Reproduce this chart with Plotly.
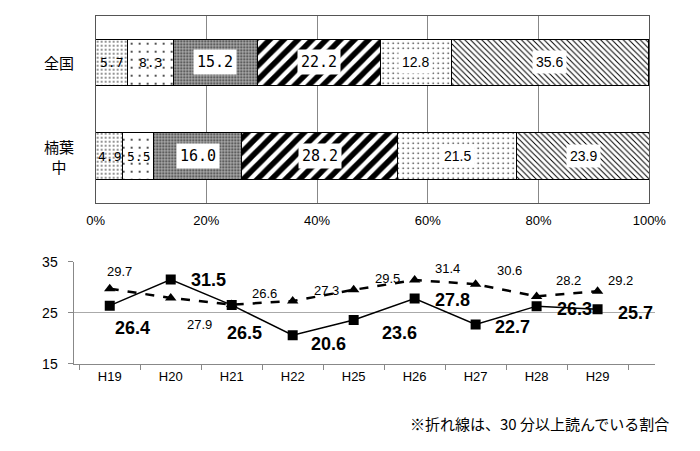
import plotly.graph_objects as go

# ---- data ----
bar_categories = ["全国", "楠葉中"]
bar_cat_labels = ["全国", "楠葉<br>中"]
seg_national = [5.7, 8.3, 15.2, 22.2, 12.8, 35.6]
seg_school = [4.9, 5.5, 16.0, 28.2, 21.5, 23.9]

years = ["H19", "H20", "H21", "H22", "H25", "H26", "H27", "H28", "H29"]
line_school = [26.4, 31.5, 26.5, 20.6, 23.6, 27.8, 22.7, 26.3, 25.7]
line_national = [29.7, 27.9, 26.6, 27.3, 29.5, 31.4, 30.6, 28.2, 29.2]
line_ticks = [15, 25, 35]

footnote = "※折れ線は、30 分以上読んでいる割合"

# ---- styles ----
patterns = [
    dict(shape=".", size=4, solidity=0.12, fgcolor="#000", bgcolor="#fff", fgopacity=1),
    dict(shape=".", size=8, solidity=0.04, fgcolor="#000", bgcolor="#fff", fgopacity=1),
    dict(shape=".", size=3, solidity=0.3, fgcolor="#333", bgcolor="#aaa", fgopacity=1),
    dict(shape="/", size=10, solidity=0.55, fgcolor="#000", bgcolor="#fff", fgopacity=1),
    dict(shape=".", size=5, solidity=0.07, fgcolor="#000", bgcolor="#fff", fgopacity=1),
    dict(shape="\\", size=4, solidity=0.25, fgcolor="#000", bgcolor="#fff", fgopacity=1),
]
boxed = [False, False, True, True, True, True]
label_font = "DejaVu Sans Mono, monospace"
sans = "Liberation Sans, Arial, sans-serif"
cjk = "Noto Sans CJK JP"

school_shift = [(23, -22), (38, 0), (13, -28), (36, -9), (46, -13),
                (38, -2), (37, -2), (38, -3), (38, -4)]
national_shift = [(10, 17), (29, -27), (33, 11), (34, 11), (34, 11),
                  (33, 12), (34, 14), (32, 16), (23, 11)]

W, H = 700, 451

fig = go.Figure()

# stacked bars
for i in range(len(seg_national)):
    fig.add_trace(go.Bar(
        y=bar_categories, x=[seg_national[i], seg_school[i]], orientation="h",
        marker=dict(color="#fff", pattern=patterns[i], line=dict(color="#000", width=1)),
        xaxis="x", yaxis="y", showlegend=False, hoverinfo="skip",
    ))

annotations = []
for ci, seg in enumerate([seg_national, seg_school]):
    cum = 0
    for i, v in enumerate(seg):
        mid = cum + v / 2
        cum += v
        annotations.append(dict(
            x=mid, y=bar_categories[ci], xref="x", yref="y", text=f"{v:.1f}",
            showarrow=False, font=dict(family=label_font if i < 4 else sans,
                                      size=(13 if i < 2 else 15) if i < 4 else 14,
                                      color="#000"),
            bgcolor="#fff" if boxed[i] else None, borderpad=3 if boxed[i] else 0,
        ))

for cat, lab in zip(bar_categories, bar_cat_labels):
    annotations.append(dict(
        x=52 / W, xref="paper", y=cat, yref="y", text=lab, showarrow=False,
        xanchor="center", align="center", font=dict(family=cjk, size=15, color="#000"),
    ))

# lines
fig.add_trace(go.Scatter(
    x=years, y=line_national, mode="lines+markers", xaxis="x2", yaxis="y2",
    line=dict(color="#000", width=2.5, dash="dash"),
    marker=dict(symbol="triangle-up", size=10, color="#000"),
    showlegend=False, hoverinfo="skip",
))
fig.add_trace(go.Scatter(
    x=years, y=line_school, mode="lines+markers", xaxis="x2", yaxis="y2",
    line=dict(color="#000", width=1.5),
    marker=dict(symbol="square", size=10, color="#000"),
    showlegend=False, hoverinfo="skip",
))

for yr, v, (dx, dy) in zip(years, line_school, school_shift):
    annotations.append(dict(
        x=yr, y=v, xref="x2", yref="y2", text=f"<b>{v:.1f}</b>", showarrow=False,
        xshift=dx, yshift=dy, font=dict(family=sans, size=18, color="#000"),
    ))
for yr, v, (dx, dy) in zip(years, line_national, national_shift):
    annotations.append(dict(
        x=yr, y=v, xref="x2", yref="y2", text=f"{v:.1f}", showarrow=False,
        xshift=dx, yshift=dy, font=dict(family=sans, size=13, color="#000"),
    ))

annotations.append(dict(
    x=688 / W, y=1 - 431 / H, xref="paper", yref="paper", text=footnote,
    showarrow=False, xanchor="right", yanchor="middle",
    font=dict(family=cjk, size=15, color="#000"),
))

fig.update_layout(
    width=W, height=H, margin=dict(l=0, r=0, t=0, b=0),
    paper_bgcolor="#fff", plot_bgcolor="#fff",
    barmode="stack", bargap=0.5,
    annotations=annotations,
    xaxis=dict(domain=[90 / W, 665 / W], range=[0, 100], dtick=20, ticksuffix="%",
               showgrid=True, gridcolor="#888", gridwidth=1, zeroline=False,
               showline=True, linecolor="#555", linewidth=1, mirror=True,
               tickfont=dict(family=sans, size=13, color="#000"), ticks="",
               ticklabelstandoff=6, anchor="y", fixedrange=True),
    yaxis=dict(domain=[1 - 202 / H, 1 - 8 / H], categoryorder="array",
               categoryarray=bar_categories, autorange="reversed",
               showticklabels=False, showgrid=False, zeroline=False,
               showline=True, linecolor="#555", linewidth=1, mirror=True,
               anchor="x", fixedrange=True),
    xaxis2=dict(domain=[68 / W, 671 / W], type="category", categoryorder="array",
                categoryarray=years, showgrid=False, zeroline=False,
                showline=True, linecolor="#888", linewidth=1,
                ticks="outside", tickson="boundaries", ticklen=5, tickcolor="#888",
                tickfont=dict(family=sans, size=13, color="#000"),
                anchor="y2", fixedrange=True),
    yaxis2=dict(domain=[1 - 369 / H, 1 - 263 / H], range=[15, 35],
                tickmode="array", tickvals=line_ticks,
                showgrid=True, gridcolor="#aaa", gridwidth=1, zeroline=False,
                showline=True, linecolor="#888", linewidth=1,
                ticks="outside", ticklen=5, tickcolor="#888",
                tickfont=dict(family=sans, size=14, color="#000"),
                ticklabelstandoff=8, anchor="x2", fixedrange=True),
)

fig.write_html("out.html")
